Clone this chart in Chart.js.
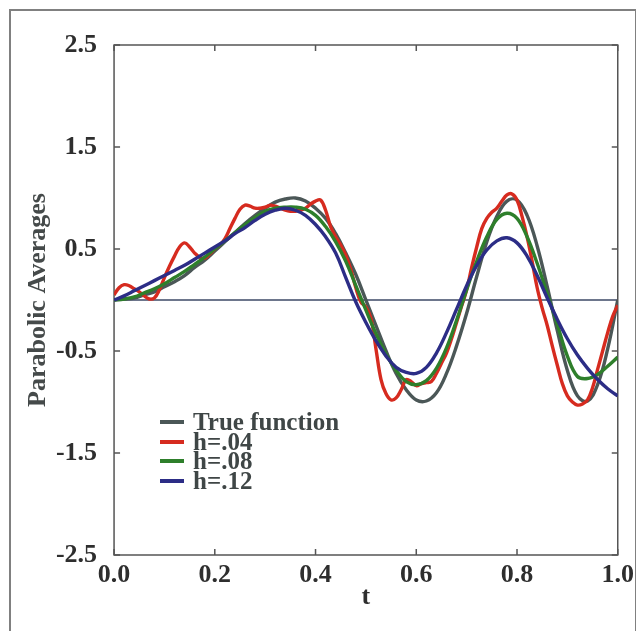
<!DOCTYPE html>
<html>
<head>
<meta charset="utf-8">
<script src="https://cdn.jsdelivr.net/npm/chart.js@4.4.1/dist/chart.umd.min.js"></script>
<style>
    html, body { margin: 0; padding: 0; background: #fff; }
    #wrap { position: relative; width: 636px; height: 631px; overflow: hidden; }
    #frame { position: absolute; left: 9px; top: 9px; width: 628px; height: 640px; border: 2px solid #808080; border-bottom: none; box-sizing: border-box; }
    #legend { position: absolute; left: 160px; top: 412px; font: bold 25px "Liberation Serif", "DejaVu Serif", serif; color: #3f4646; line-height: 19.7px; }
    .row { display: flex; align-items: center; white-space: nowrap; }
    .sw { width: 24px; height: 4px; margin-right: 9px; }
</style>
</head>
<body>
<div id="wrap">
    <div id="frame"></div>
    <canvas id="myChart" width="641" height="631" style="position:absolute;left:0;top:0"></canvas>
    <div id="legend"></div>
</div>
<script>
// sample times (t)
const tCoarse = [0.00, 0.02, 0.04, 0.06, 0.08, 0.10, 0.12, 0.14, 0.16, 0.18,
    0.20, 0.22, 0.24, 0.26, 0.28, 0.30, 0.32, 0.34, 0.36, 0.38,
    0.40, 0.42, 0.44, 0.46, 0.48, 0.50, 0.52, 0.54, 0.56, 0.58,
    0.60, 0.62, 0.64, 0.66, 0.68, 0.70, 0.72, 0.74, 0.76, 0.78,
    0.80, 0.82, 0.84, 0.86, 0.88, 0.90, 0.92, 0.94, 0.96, 0.98, 1.00];

const tFine = [0.00, 0.01, 0.02, 0.03, 0.04, 0.05, 0.06, 0.07, 0.08, 0.09,
    0.10, 0.11, 0.12, 0.13, 0.14, 0.15, 0.16, 0.17, 0.18, 0.19,
    0.20, 0.21, 0.22, 0.23, 0.24, 0.25, 0.26, 0.27, 0.28, 0.29,
    0.30, 0.31, 0.32, 0.33, 0.34, 0.35, 0.36, 0.37, 0.38, 0.39,
    0.40, 0.41, 0.42, 0.43, 0.44, 0.45, 0.46, 0.47, 0.48, 0.49,
    0.50, 0.51, 0.52, 0.53, 0.54, 0.55, 0.56, 0.57, 0.58, 0.59,
    0.60, 0.61, 0.62, 0.63, 0.64, 0.65, 0.66, 0.67, 0.68, 0.69,
    0.70, 0.71, 0.72, 0.73, 0.74, 0.75, 0.76, 0.77, 0.78, 0.79,
    0.80, 0.81, 0.82, 0.83, 0.84, 0.85, 0.86, 0.87, 0.88, 0.89,
    0.90, 0.91, 0.92, 0.93, 0.94, 0.95, 0.96, 0.97, 0.98, 0.99, 1.00];

const seriesNames = ['True function', 'h=.04', 'h=.08', 'h=.12'];

const trueValues = [0, 0.01, 0.02, 0.05, 0.08, 0.13, 0.18, 0.24, 0.32, 0.39,
    0.48, 0.57, 0.66, 0.75, 0.83, 0.90, 0.96, 0.99, 1.00, 0.97,
    0.90, 0.80, 0.65, 0.46, 0.25, 0.00, -0.25, -0.50, -0.72, -0.88,
    -0.98, -0.99, -0.91, -0.72, -0.45, -0.13, 0.23, 0.57, 0.82, 0.97,
    0.98, 0.83, 0.53, 0.13, -0.30, -0.69, -0.94, -0.99, -0.83, -0.48, 0.00];

const h04Values = [0.05, 0.12, 0.15, 0.14, 0.11, 0.08, 0.04, 0.01, 0.02, 0.10,
    0.22, 0.33, 0.43, 0.52, 0.56, 0.52, 0.46, 0.42, 0.41, 0.45,
    0.50, 0.54, 0.60, 0.70, 0.80, 0.89, 0.93, 0.92, 0.90, 0.90,
    0.91, 0.93, 0.92, 0.90, 0.88, 0.87, 0.87, 0.88, 0.90, 0.94,
    0.97, 0.98, 0.88, 0.72, 0.62, 0.54, 0.44, 0.30, 0.12, -0.02,
    -0.07, -0.18, -0.48, -0.78, -0.92, -0.98, -0.96, -0.88, -0.78, -0.80,
    -0.84, -0.82, -0.81, -0.80, -0.72, -0.62, -0.52, -0.38, -0.22, -0.06,
    0.10, 0.32, 0.52, 0.70, 0.80, 0.86, 0.90, 0.97, 1.03, 1.04,
    0.98, 0.82, 0.62, 0.38, 0.12, -0.08, -0.25, -0.45, -0.64, -0.82,
    -0.94, -1.00, -1.03, -1.02, -0.98, -0.86, -0.68, -0.50, -0.32, -0.16, -0.05];

const h08Values = [0, 0.01, 0.03, 0.07, 0.11, 0.16, 0.22, 0.28, 0.35, 0.42,
    0.50, 0.58, 0.66, 0.74, 0.81, 0.87, 0.90, 0.91, 0.91, 0.89,
    0.83, 0.72, 0.57, 0.38, 0.14, -0.10, -0.33, -0.53, -0.69, -0.80,
    -0.83, -0.79, -0.67, -0.47, -0.20, 0.10, 0.38, 0.62, 0.79, 0.85,
    0.80, 0.62, 0.36, 0.06, -0.24, -0.55, -0.75, -0.77, -0.73, -0.65, -0.56];

const h12Values = [0, 0.04, 0.09, 0.14, 0.19, 0.24, 0.29, 0.34, 0.40, 0.46,
    0.52, 0.58, 0.65, 0.71, 0.78, 0.84, 0.88, 0.90, 0.88, 0.83,
    0.74, 0.62, 0.46, 0.22, -0.02, -0.22, -0.40, -0.55, -0.66, -0.71,
    -0.72, -0.66, -0.52, -0.32, -0.09, 0.14, 0.34, 0.49, 0.58, 0.61,
    0.56, 0.43, 0.24, 0.02, -0.19, -0.38, -0.54, -0.67, -0.78, -0.87, -0.94];

const xTicks = [0.0, 0.2, 0.4, 0.6, 0.8, 1.0];
const yTicks = [-2.5, -1.5, -0.5, 0.5, 1.5, 2.5];

const colors = ['#4b5757', '#d62b1f', '#2e7f2b', '#2c2d86'];

function pts(ts, vs) {
    return ts.map((t, i) => ({ x: t, y: vs[i] }));
}

const tickFont = { family: '"Liberation Serif", serif', size: 26, weight: 'bold', lineHeight: 1 };

// frame around the plot, inward ticks, and the zero line
const framePlugin = {
    id: 'framePlugin',
    beforeDatasetsDraw(chart) {
        const { ctx, chartArea: a, scales } = chart;
        ctx.save();
        ctx.strokeStyle = '#3d4866';
        ctx.lineWidth = 1.5;
        const y0 = scales.y.getPixelForValue(0);
        ctx.beginPath();
        ctx.moveTo(a.left, y0);
        ctx.lineTo(a.right, y0);
        ctx.stroke();

        ctx.strokeStyle = '#555';
        ctx.lineWidth = 1.5;
        ctx.strokeRect(a.left, a.top, a.right - a.left, a.bottom - a.top);
        ctx.beginPath();
        xTicks.forEach(v => {
            const x = scales.x.getPixelForValue(v);
            ctx.moveTo(x, a.top); ctx.lineTo(x, a.top + 6);
            ctx.moveTo(x, a.bottom); ctx.lineTo(x, a.bottom - 6);
        });
        yTicks.forEach(v => {
            const y = scales.y.getPixelForValue(v);
            ctx.moveTo(a.left, y); ctx.lineTo(a.left + 6, y);
            ctx.moveTo(a.right, y); ctx.lineTo(a.right - 6, y);
        });
        ctx.stroke();
        ctx.restore();
    }
};

const ctx = document.getElementById('myChart').getContext('2d');
new Chart(ctx, {
    type: 'line',
    data: {
        datasets: [
            { label: seriesNames[0], data: pts(tCoarse, trueValues), borderColor: colors[0], order: 4 },
            { label: seriesNames[1], data: pts(tFine, h04Values), borderColor: colors[1], order: 3 },
            { label: seriesNames[2], data: pts(tCoarse, h08Values), borderColor: colors[2], order: 2 },
            { label: seriesNames[3], data: pts(tCoarse, h12Values), borderColor: colors[3], order: 1 }
        ]
    },
    options: {
        responsive: false,
        animation: false,
        elements: {
            line: { borderWidth: 3.4, tension: 0.4, fill: false },
            point: { radius: 0 }
        },
        layout: { padding: { left: 18, right: 10, top: 45, bottom: 21 } },
        plugins: { legend: { display: false }, tooltip: { enabled: false } },
        scales: {
            x: {
                type: 'linear',
                min: 0, max: 1,
                afterBuildTicks: s => { s.ticks = xTicks.map(v => ({ value: v })); },
                grid: { display: false, drawTicks: false },
                border: { display: false },
                ticks: { font: tickFont, color: '#2e2e2e', padding: 7, maxRotation: 0, autoSkip: false,
                    callback: v => v.toFixed(1) },
                title: { display: true, text: 't', font: tickFont, color: '#2e2e2e', padding: { top: -11, bottom: 0 } }
            },
            y: {
                min: -2.5, max: 2.5,
                afterBuildTicks: s => { s.ticks = yTicks.map(v => ({ value: v })); },
                grid: { display: false, drawTicks: false },
                border: { display: false },
                ticks: { font: tickFont, color: '#2e2e2e', padding: 17, autoSkip: false,
                    callback: v => v.toFixed(1) },
                title: { display: true, text: 'Parabolic Averages', color: '#454a4a',
                    font: { family: '"Liberation Serif", serif', size: 26, weight: 'bold', lineHeight: 1.15 },
                    padding: { top: 5, bottom: -14 } }
            }
        }
    },
    plugins: [framePlugin]
});

const legend = document.getElementById('legend');
seriesNames.forEach((name, i) => {
    legend.innerHTML += `<div class="row"><span class="sw" style="background:${colors[i]}"></span>${name}</div>`;
});
</script>
</body>
</html>
